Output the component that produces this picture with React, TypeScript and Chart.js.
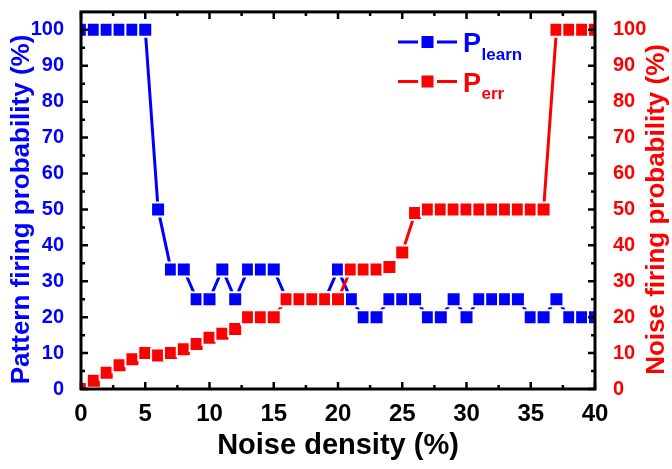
import React, { useEffect, useRef } from "react";
import { Chart, registerables } from "chart.js";

Chart.register(...registerables);

// Noise density (%) on the x axis
const noiseDensity = [
  0, 1, 2, 3, 4, 5, 6, 7, 8, 9, 10, 11, 12, 13, 14, 15, 16, 17, 18, 19, 20,
  21, 22, 23, 24, 25, 26, 27, 28, 29, 30, 31, 32, 33, 34, 35, 36, 37, 38, 39, 40,
];

// Pattern firing probability P_learn (%)
const pLearn = [
  100, 100, 100, 100, 100, 100, 50, 33.3, 33.3, 25, 25, 33.3, 25, 33.3, 33.3,
  33.3, 25, 25, 25, 25, 33.3, 25, 20, 20, 25, 25, 25, 20, 20, 25, 20, 25, 25,
  25, 25, 20, 20, 25, 20, 20, 20,
];

// Noise firing probability P_err (%)
const pErr = [
  0, 2.3, 4.5, 6.6, 8.3, 10, 9.3, 10, 11.1, 12.5, 14.3, 15.4, 16.7, 20, 20, 20,
  25, 25, 25, 25, 25, 33.3, 33.3, 33.3, 34, 38, 49, 50, 50, 50, 50, 50, 50, 50,
  50, 50, 50, 100, 100, 100, 100,
];

const xTickValues = [0, 5, 10, 15, 20, 25, 30, 35, 40];
const yTickValues = [0, 10, 20, 30, 40, 50, 60, 70, 80, 90, 100];

const BLUE = "#0000ff";
const RED = "#ff0000";
const FONT = "'Liberation Sans', Arial, Helvetica, sans-serif";

// Inward tick marks on all four sides plus the heavy box frame
const framePlugin = {
  id: "frameTicks",
  afterDatasetsDraw(chart: any) {
    const { ctx, chartArea: a, scales } = chart;
    const xs = scales.x;
    const ys = scales.y;
    ctx.save();
    ctx.strokeStyle = "#000";
    ctx.lineCap = "butt";
    ctx.lineWidth = 2.5;
    const major = 7;
    const minor = 4;
    ctx.beginPath();
    for (let v = xs.min; v <= xs.max + 1e-6; v += 2.5) {
      const px = xs.getPixelForValue(v);
      const len = Math.abs(v % 5) < 1e-6 ? major : minor;
      ctx.moveTo(px, a.bottom);
      ctx.lineTo(px, a.bottom - len);
      ctx.moveTo(px, a.top);
      ctx.lineTo(px, a.top + len);
    }
    for (let v = ys.min; v <= 100 + 1e-6; v += 5) {
      const py = ys.getPixelForValue(v);
      const len = Math.abs(v % 10) < 1e-6 ? major : minor;
      ctx.moveTo(a.left, py);
      ctx.lineTo(a.left + len, py);
      ctx.moveTo(a.right, py);
      ctx.lineTo(a.right - len, py);
    }
    ctx.stroke();
    ctx.lineWidth = 3;
    ctx.strokeRect(a.left, a.top, a.right - a.left, a.bottom - a.top);
    ctx.restore();
  },
};

function drawVerticalTitle(ctx: any, text: string, color: string, x: number, y: number) {
  ctx.save();
  ctx.fillStyle = color;
  ctx.font = `bold 26px ${FONT}`;
  ctx.textAlign = "center";
  ctx.textBaseline = "middle";
  ctx.translate(x, y);
  ctx.rotate(-Math.PI / 2);
  ctx.fillText(text, 0, 0);
  ctx.restore();
}

// Both y-axis titles (reading bottom to top) and the legend with subscripts
const annotationPlugin = {
  id: "titlesLegend",
  afterDraw(chart: any) {
    const { ctx, chartArea: a } = chart;
    const midY = (a.top + a.bottom) / 2 + 9;
    drawVerticalTitle(ctx, "Pattern firing probability (%)", BLUE, 22, midY);
    drawVerticalTitle(ctx, "Noise firing probability (%)", RED, 657, midY);

    const entries = [
      { ds: chart.data.datasets[0], sub: "learn", y: 42 },
      { ds: chart.data.datasets[1], sub: "err", y: 81.5 },
    ];
    ctx.save();
    for (const e of entries) {
      const c = e.ds.borderColor;
      ctx.strokeStyle = c;
      ctx.fillStyle = c;
      ctx.lineWidth = 3;
      ctx.beginPath();
      ctx.moveTo(398, e.y);
      ctx.lineTo(418, e.y);
      ctx.moveTo(437, e.y);
      ctx.lineTo(457, e.y);
      ctx.stroke();
      ctx.fillRect(421.5, e.y - 6, 12, 12);
      ctx.textAlign = "left";
      ctx.textBaseline = "alphabetic";
      ctx.font = `bold 27px ${FONT}`;
      ctx.fillText("P", 463, e.y + 10);
      const w = ctx.measureText("P").width;
      ctx.font = `bold 17px ${FONT}`;
      ctx.fillText(e.sub, 463 + w + 0.5, e.y + 17.5);
    }
    ctx.restore();
  },
};

export default function App() {
  const ref = useRef<HTMLCanvasElement>(null);

  useEffect(() => {
    const canvas = ref.current;
    if (!canvas) return;

    const pointStyle = {
      pointStyle: "rect" as const,
      pointRadius: 9.9,
      pointHoverRadius: 9.9,
      pointBorderColor: "#ffffff",
      pointBorderWidth: 2,
      borderWidth: 3,
      tension: 0,
      clip: 0,
      fill: false,
    };

    const chart = new Chart(canvas, {
      type: "line",
      data: {
        datasets: [
          {
            label: "P_learn",
            data: noiseDensity.map((x, i) => ({ x, y: pLearn[i] })),
            borderColor: BLUE,
            backgroundColor: BLUE,
            pointBackgroundColor: BLUE,
            yAxisID: "y",
            order: 1,
            ...pointStyle,
          },
          {
            label: "P_err",
            data: noiseDensity.map((x, i) => ({ x, y: pErr[i] })),
            borderColor: RED,
            backgroundColor: RED,
            pointBackgroundColor: RED,
            yAxisID: "y2",
            order: 0,
            ...pointStyle,
          },
        ],
      },
      options: {
        responsive: false,
        animation: false,
        devicePixelRatio: 1,
        layout: { padding: { top: 7, left: 0, right: 0, bottom: 0 } },
        plugins: {
          legend: { display: false },
          tooltip: { enabled: false },
        },
        scales: {
          x: {
            type: "linear",
            position: "bottom",
            min: 0,
            max: 40,
            grid: { display: false },
            border: { display: false },
            afterBuildTicks: (s: any) => {
              s.ticks = xTickValues.map((value) => ({ value }));
            },
            afterFit: (s: any) => {
              s.height = 80;
              s.paddingLeft = 0;
              s.paddingRight = 0;
            },
            ticks: {
              color: "#000",
              padding: 3,
              maxRotation: 0,
              autoSkip: false,
              font: { family: FONT, size: 24, weight: "bold" },
            },
            title: {
              display: true,
              text: "Noise density (%)",
              color: "#000",
              font: { family: FONT, size: 29, weight: "bold" },
              padding: { top: 0, bottom: 6 },
            },
          },
          y: {
            type: "linear",
            position: "left",
            min: 0,
            max: 105,
            grid: { display: false },
            border: { display: false },
            afterBuildTicks: (s: any) => {
              s.ticks = yTickValues.map((value) => ({ value }));
            },
            afterFit: (s: any) => {
              s.width = 81;
              s.paddingTop = 0;
              s.paddingBottom = 0;
            },
            ticks: {
              color: BLUE,
              padding: 9,
              autoSkip: false,
              font: { family: FONT, size: 20, weight: "bold" },
            },
          },
          y2: {
            type: "linear",
            position: "right",
            min: 0,
            max: 105,
            grid: { display: false },
            border: { display: false },
            afterBuildTicks: (s: any) => {
              s.ticks = yTickValues.map((value) => ({ value }));
            },
            afterFit: (s: any) => {
              s.width = 77;
              s.paddingTop = 0;
              s.paddingBottom = 0;
            },
            ticks: {
              color: RED,
              padding: 10,
              autoSkip: false,
              font: { family: FONT, size: 20, weight: "bold" },
            },
          },
        },
      },
      plugins: [framePlugin, annotationPlugin],
    } as any);

    return () => chart.destroy();
  }, []);

  return (
    <div
      style={{
        position: "fixed",
        left: 0,
        top: 0,
        width: 672,
        height: 469,
        background: "#ffffff",
      }}
    >
      <canvas
        ref={ref}
        width={672}
        height={469}
        style={{ display: "block", width: 672, height: 469 }}
      />
    </div>
  );
}
